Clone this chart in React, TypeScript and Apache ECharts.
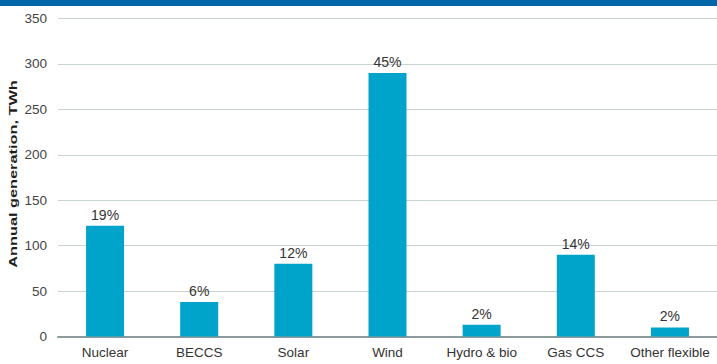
import React, { useEffect, useRef } from "react";
import * as echarts from "echarts";

// Annual generation by technology (TWh) and share of total
const categories = ["Nuclear", "BECCS", "Solar", "Wind", "Hydro & bio", "Gas CCS", "Other flexible"];
const generationTWh = [122, 38, 80, 290, 13, 90, 10];
const shareLabels = ["19%", "6%", "12%", "45%", "2%", "14%", "2%"];
const yTicks = { min: 0, max: 350, interval: 50 };
const yAxisTitle = "Annual generation, TWh";

const SANS = "'Liberation Sans', Arial, sans-serif";

export default function App() {
  const ref = useRef<HTMLDivElement>(null);

  useEffect(() => {
    if (!ref.current) return;
    const chart = echarts.init(ref.current, null, { renderer: "svg" });
    chart.setOption({
      animation: false,
      backgroundColor: "#ffffff",
      textStyle: { fontFamily: SANS },
      graphic: [
        {
          type: "rect",
          left: 0,
          top: 0,
          shape: { width: 717, height: 6 },
          style: { fill: "#0066a8" },
          z: 100,
        },
        {
          // vertical axis title, stretched along its length
          type: "text",
          x: 13,
          y: 174,
          rotation: Math.PI / 2,
          scaleX: 1.42,
          scaleY: 1,
          style: {
            text: yAxisTitle,
            font: `bold 11.5px ${SANS}`,
            fill: "#1e1e1e",
            align: "center",
            verticalAlign: "middle",
          },
        },
      ],
      grid: { left: 58, top: 18.5, width: 661, bottom: 27.5, containLabel: false },
      xAxis: {
        type: "category",
        data: categories,
        axisTick: { show: false },
        axisLine: { show: true, lineStyle: { color: "#8c9a9c", width: 2 } },
        axisLabel: { color: "#333333", fontSize: 13.5, margin: 9, interval: 0 },
      },
      yAxis: {
        type: "value",
        min: yTicks.min,
        max: yTicks.max,
        interval: yTicks.interval,
        axisLine: { show: false },
        axisTick: { show: false },
        axisLabel: { color: "#444444", fontSize: 13.5, margin: 11 },
        splitLine: { lineStyle: { color: "#cad3d4", width: 1 } },
      },
      series: [
        {
          type: "bar",
          data: generationTWh,
          barWidth: 38,
          itemStyle: { color: "#00a3c9" },
          label: {
            show: true,
            position: "top",
            distance: 4,
            color: "#333333",
            fontSize: 14,
            formatter: (p: any) => shareLabels[p.dataIndex],
          },
        },
      ],
    });
    return () => chart.dispose();
  }, []);

  return (
    <div
      ref={ref}
      style={{ position: "fixed", left: 0, top: 0, width: 717, height: 364 }}
    />
  );
}
